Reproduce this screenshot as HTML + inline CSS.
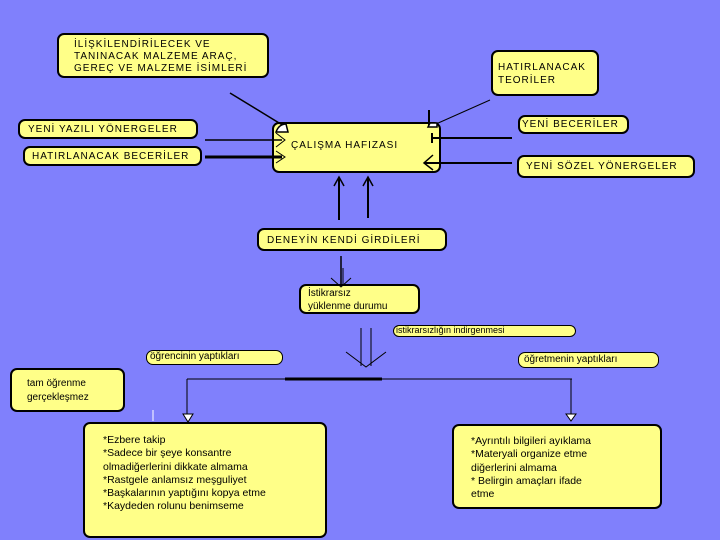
<!DOCTYPE html>
<html><head><meta charset="utf-8"><style>
body{margin:0;width:720px;height:540px;background:#8080fc;overflow:hidden;position:relative;font-family:"Liberation Sans",sans-serif;}
.b{position:absolute;background:#ffff88;border:2px solid #000;border-radius:7px;box-sizing:border-box;color:#000;font-size:10px;letter-spacing:1px;line-height:13px;white-space:nowrap;}
svg{position:absolute;left:0;top:0;z-index:5;}
</style></head><body>
<div class="b" style="left:57px;top:33px;width:212px;height:45px;padding:4px 0 0 15px;line-height:12px;">İLİŞKİLENDİRİLECEK VE<br>TANINACAK MALZEME ARAÇ,<br>GEREÇ VE MALZEME İSİMLERİ</div>
<div class="b" style="left:491px;top:50px;width:108px;height:46px;padding:9px 0 0 5px;">HATIRLANACAK<br>TEORİLER</div>
<div class="b" style="left:18px;top:119px;width:180px;height:20px;padding:2px 0 0 8px;">YENİ YAZILI YÖNERGELER</div>
<div class="b" style="left:23px;top:146px;width:179px;height:20px;padding:2px 0 0 7px;">HATIRLANACAK BECERİLER</div>
<div class="b" style="left:272px;top:122px;width:169px;height:51px;padding:15px 0 0 17px;">ÇALIŞMA HAFIZASI</div>
<div class="b" style="left:518px;top:115px;width:111px;height:19px;padding:1px 0 0 2px;">YENİ BECERİLER</div>
<div class="b" style="left:517px;top:155px;width:178px;height:23px;padding:3px 0 0 7px;">YENİ SÖZEL YÖNERGELER</div>
<div class="b" style="left:257px;top:228px;width:190px;height:23px;padding:4px 0 0 8px;">DENEYİN KENDİ GİRDİLERİ</div>
<div class="b" style="left:299px;top:284px;width:121px;height:30px;padding:1px 0 0 7px;letter-spacing:0;line-height:13px;">İstikrarsız<br>yüklenme durumu</div>
<div class="b" style="left:393px;top:325px;width:183px;height:12px;padding:0 0 0 2px;font-size:9px;line-height:9px;letter-spacing:0;border-width:1px;">istikrarsızlığın indirgenmesi</div>
<div class="b" style="left:146px;top:350px;width:137px;height:15px;padding:0 0 0 3px;letter-spacing:0;line-height:12px;border-width:1px;">öğrencinin yaptıkları</div>
<div class="b" style="left:518px;top:352px;width:141px;height:16px;padding:1px 0 0 5px;letter-spacing:0;line-height:12px;border-width:1px;">öğretmenin yaptıkları</div>
<div class="b" style="left:10px;top:368px;width:115px;height:44px;padding:7px 0 0 15px;letter-spacing:0;line-height:14px;">tam öğrenme<br>gerçekleşmez</div>
<div class="b" style="left:83px;top:422px;width:244px;height:116px;padding:10px 0 0 18px;letter-spacing:0;line-height:13.3px;font-size:10.5px;">*Ezbere takip<br>*Sadece bir şeye konsantre<br>olmadiğerlerini dikkate almama<br>*Rastgele anlamsız meşguliyet<br>*Başkalarının yaptığını kopya etme<br>*Kaydeden rolunu benimseme</div>
<div class="b" style="left:452px;top:424px;width:210px;height:85px;padding:9px 0 0 17px;letter-spacing:0;line-height:13.3px;font-size:10.5px;">*Ayrıntılı bilgileri ayıklama<br>*Materyali organize etme<br>diğerlerini almama<br>* Belirgin amaçları ifade<br>etme</div>
<svg width="720" height="540" stroke="#000" fill="none">
<line x1="230" y1="93" x2="284" y2="126" stroke-width="1.5"/>
<path d="M276,132 Q279,124 286,124 L288,132 Z" fill="#fff" stroke-width="1.5"/>
<line x1="490" y1="100" x2="436" y2="124" stroke-width="1"/>
<line x1="429" y1="110" x2="429" y2="126" stroke-width="2"/>
<path d="M428,127 L437,127 L437,123 L430,123 Z" fill="#fff" stroke-width="1.5"/>
<line x1="205" y1="140" x2="282" y2="140" stroke-width="1.5"/>
<polyline points="276,133 285,140 276,147"/>
<line x1="205" y1="157" x2="282" y2="157" stroke-width="3"/>
<polyline points="276,151 285,157 276,163"/>
<line x1="512" y1="138" x2="433" y2="138" stroke-width="2"/>
<line x1="432" y1="133" x2="432" y2="143" stroke-width="2"/>
<line x1="512" y1="163" x2="424" y2="163" stroke-width="2"/>
<polyline points="433,155 424,163 433,170" stroke-width="1.5"/>
<line x1="339" y1="220" x2="339" y2="178" stroke-width="2"/>
<polyline points="334,186 339,177 344,186" stroke-width="1.5"/>
<line x1="368" y1="218" x2="368" y2="178" stroke-width="2"/>
<polyline points="363,186 368,177 373,186" stroke-width="1.5"/>
<line x1="341" y1="256" x2="341" y2="285" stroke-width="1.5"/>
<line x1="343" y1="268" x2="343" y2="285"/>
<polyline points="331,278 341,287 351,278"/>
<line x1="361" y1="328" x2="361" y2="366"/>
<line x1="371" y1="328" x2="371" y2="366"/>
<polyline points="346,352 366,367 386,352"/>
<line x1="187" y1="379" x2="572" y2="379" stroke-width="1"/>
<line x1="285" y1="379" x2="382" y2="379" stroke-width="3"/>
<line x1="187" y1="379" x2="187" y2="418"/>
<line x1="571" y1="379" x2="571" y2="418"/>
<polygon points="183,414 193,414 188,422" fill="#fff"/>
<polygon points="566,414 576,414 571,421" fill="#fff"/>
<line x1="153" y1="410" x2="153" y2="421" stroke="#fff"/>
</svg>
</body></html>
